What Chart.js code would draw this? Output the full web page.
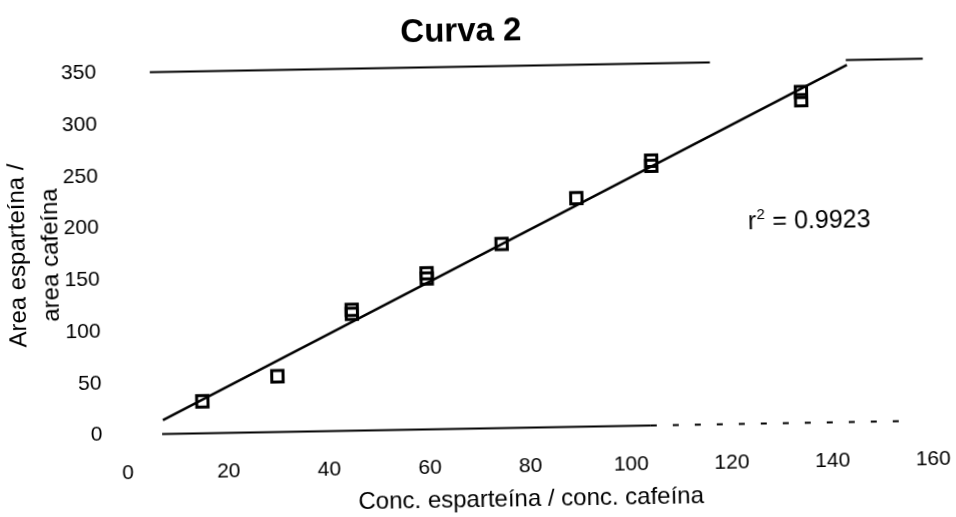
<!DOCTYPE html>
<html><head><meta charset="utf-8">
<script src="https://cdn.jsdelivr.net/npm/chart.js@4/dist/chart.umd.min.js"></script>
<style>
html,body{margin:0;padding:0;background:#fff;overflow:hidden;}
#wrap{width:956px;height:517px;transform:rotate(-1deg);transform-origin:478px 258.5px;background:#fff;}
canvas{display:block;}
</style></head><body>
<div id="wrap"><canvas id="c" width="956" height="517"></canvas></div>
<script>
// ---- data ----
const concX      = [15, 30, 45, 45, 60, 60, 75, 90, 105, 105, 135, 135];
const areaRatio  = [31, 54, 117, 113, 151, 146, 178, 221, 256, 251, 320, 312];
const fitX       = [7.1, 144.2];
const fitY       = [13.6, 345.2];
const topFrameX1 = [5.7, 117];
const topFrameX2 = [144, 159.3];
const topFrameY  = [350, 350];
const botFrameX1 = [6.9, 104];
const botFrameX2 = [104, 154];
const botFrameY  = [0, 0];
const xTicks     = [0, 20, 40, 60, 80, 100, 120, 140, 160];
const yTicks     = [0, 50, 100, 150, 200, 250, 300, 350];
const r2Value    = "0.9923";
const chartTitle = "Curva 2";
const xTitle     = "Conc. esparteína / conc. cafeína";
const yTitle     = ["Area esparteína /", "area cafeína"];

const FONT = '"Liberation Sans", Arial, Helvetica, sans-serif';
const pts = (xs, ys) => xs.map((v, i) => ({x: v, y: ys[i]}));

const r2Plugin = {
  id: 'r2label',
  afterDatasetsDraw(chart) {
    const {ctx, scales: {x, y}} = chart;
    const px = x.getPixelForValue(124), py = y.getPixelForValue(188);
    ctx.save();
    ctx.fillStyle = '#000';
    ctx.textAlign = 'left';
    ctx.textBaseline = 'alphabetic';
    ctx.font = '25px ' + FONT;
    ctx.fillText('r', px, py);
    const rw = ctx.measureText('r').width;
    ctx.font = '15px ' + FONT;
    ctx.fillText('2', px + rw + 0.5, py - 10);
    const sw = ctx.measureText('2').width;
    ctx.font = '25px ' + FONT;
    ctx.fillText(' = ' + r2Value, px + rw + sw + 1, py);
    ctx.restore();
  }
};

const lineDs = (data, extra) => Object.assign({
  data, showLine: true, borderColor: '#000', borderWidth: 2,
  pointRadius: 0, pointHoverRadius: 0, fill: false, clip: false, tension: 0
}, extra || {});

new Chart(document.getElementById('c'), {
  type: 'scatter',
  data: {
    datasets: [
      lineDs(pts(topFrameX1, topFrameY)),
      lineDs(pts(topFrameX2, topFrameY)),
      lineDs(pts(botFrameX1, botFrameY)),
      lineDs(pts(botFrameX2, botFrameY), {borderDash: [6, 16]}),
      lineDs(pts(fitX, fitY), {borderWidth: 2.5}),
      {
        data: pts(concX, areaRatio),
        pointStyle: 'rect', pointRadius: 8, pointHoverRadius: 8,
        borderColor: '#000', borderWidth: 3,
        backgroundColor: 'rgba(0,0,0,0)', showLine: false
      }
    ]
  },
  options: {
    responsive: false, animation: false, events: [],
    layout: {padding: {top: 0, right: 26.3, bottom: 0, left: 0}},
    plugins: {
      legend: {display: false},
      tooltip: {enabled: false},
      title: {
        display: true, text: chartTitle, color: '#000',
        font: {family: FONT, size: 33, weight: 'bold', lineHeight: 1.2},
        padding: {top: 11.8, bottom: 15.1}
      }
    },
    scales: {
      x: {
        type: 'linear', min: 0, max: 160,
        afterBuildTicks: s => { s.ticks = xTicks.map(v => ({value: v})); },
        afterFit: s => { s.height = 88.4; s.paddingRight = 0; s.paddingLeft = 0; },
        grid: {display: false}, border: {display: false},
        ticks: {color: '#000', padding: 18, font: {family: FONT, size: 21, lineHeight: 1.2}},
        title: {display: true, text: xTitle, color: '#000',
          font: {family: FONT, size: 24, lineHeight: 1.2}, padding: {top: 0, bottom: 2}}
      },
      y: {
        type: 'linear', min: 0, max: 350,
        afterBuildTicks: s => { s.ticks = yTicks.map(v => ({value: v})); },
        afterFit: s => { s.width = 124.4; },
        grid: {display: false}, border: {display: false},
        ticks: {color: '#000', padding: 17, font: {family: FONT, size: 21, lineHeight: 1.2}},
        title: {display: true, text: yTitle, color: '#000',
          font: {family: FONT, size: 24, lineHeight: 1.375}, padding: {top: 2.2, bottom: 0}}
      }
    }
  },
  plugins: [r2Plugin]
});
</script>
</body></html>
